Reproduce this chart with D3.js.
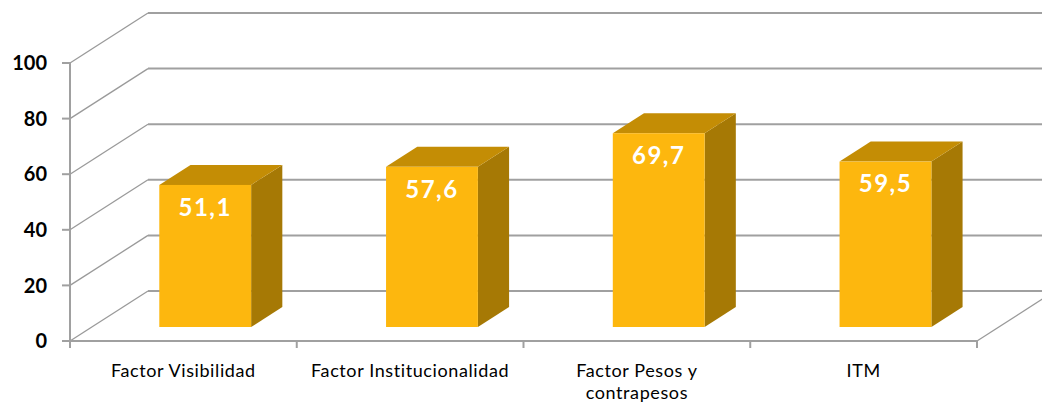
<!DOCTYPE html>
<html>
<head>
<meta charset="utf-8">
<script src="https://cdn.jsdelivr.net/npm/d3@7"></script>
<style>
  html, body { margin: 0; padding: 0; background: #fff; }
  svg { display: block; }
</style>
</head>
<body>
<svg id="chart" width="1042" height="403"></svg>
<script>
// ---- data ----
const categories = ["Factor Visibilidad", "Factor Institucionalidad", "Factor Pesos y contrapesos", "ITM"];
const categoryLines = [["Factor Visibilidad"], ["Factor Institucionalidad"], ["Factor Pesos y", "contrapesos"], ["ITM"]];
const values = [51.1, 57.6, 69.7, 59.5];
const valueLabels = ["51,1", "57,6", "69,7", "59,5"];
const yTicks = [0, 20, 40, 60, 80, 100];

// ---- layout ----
(function () {
const svg = d3.select("#chart");
const font = "Lato, 'Open Sans', sans-serif";
const plotLeft = 70, plotRight = 977, plotBottom = 341, plotTop = 63;
const depthX = 78, depthY = -50;        // full floor depth offset
const barFront = 0.28, barBack = 0.68;  // bars sit in the middle of the depth

const x = d3.scaleBand().domain(categories).range([plotLeft, plotRight]).paddingInner(0).paddingOuter(0);
const y = d3.scaleLinear().domain([0, 100]).range([plotBottom, plotTop]);
const barW = x.bandwidth() * 0.405;

const grid = "#a0a0a0";

// back wall gridlines
svg.append("g").selectAll("line").data(yTicks).join("line")
  .attr("x1", plotLeft + depthX).attr("x2", plotRight + depthX)
  .attr("y1", d => y(d) + depthY).attr("y2", d => y(d) + depthY)
  .attr("stroke", grid).attr("stroke-width", 2);

// left wall diagonals
svg.append("g").selectAll("line").data(yTicks).join("line")
  .attr("x1", plotLeft).attr("x2", plotLeft + depthX)
  .attr("y1", d => y(d)).attr("y2", d => y(d) + depthY)
  .attr("stroke", "#9a9a9a").attr("stroke-width", 1.3);

// floor right diagonal
svg.append("line")
  .attr("x1", plotRight).attr("y1", y(0))
  .attr("x2", plotRight + depthX).attr("y2", y(0) + depthY)
  .attr("stroke", "#9a9a9a").attr("stroke-width", 1.3);

// front axis lines
svg.append("line").attr("x1", plotLeft).attr("x2", plotLeft).attr("y1", y(0) + 1).attr("y2", y(100))
  .attr("stroke", grid).attr("stroke-width", 2);
svg.append("line").attr("x1", plotLeft).attr("x2", plotRight).attr("y1", y(0)).attr("y2", y(0))
  .attr("stroke", grid).attr("stroke-width", 2);

// y ticks
svg.append("g").selectAll("line").data(yTicks).join("line")
  .attr("x1", plotLeft - 8).attr("x2", plotLeft).attr("y1", d => y(d)).attr("y2", d => y(d))
  .attr("stroke", grid).attr("stroke-width", 2);
svg.append("g").selectAll("text").data(yTicks).join("text")
  .attr("x", 47).attr("y", d => y(d)).attr("dy", "0.36em")
  .attr("text-anchor", "end")
  .attr("font-family", font).attr("font-weight", "bold").attr("font-size", 20)
  .attr("fill", "#000").text(d => d);

// category ticks
const catEdges = categories.map(c => x(c)).concat([plotRight]);
svg.append("g").selectAll("line").data(catEdges).join("line")
  .attr("x1", d => d).attr("x2", d => d).attr("y1", y(0)).attr("y2", y(0) + 7)
  .attr("stroke", grid).attr("stroke-width", 2);

// bars
const dxF = depthX * barFront, dyF = depthY * barFront;
const dxB = depthX * barBack, dyB = depthY * barBack;
const bars = svg.append("g").selectAll("g").data(categories).join("g");
bars.each(function(c, i) {
  const g = d3.select(this);
  const cx = x(c) + x.bandwidth() / 2 + dxF;
  const x0 = cx - barW / 2, x1 = cx + barW / 2;
  const yb = y(0) + dyF, yt = y(values[i]) + dyF;
  const ddx = dxB - dxF, ddy = dyB - dyF;
  g.append("path")
    .attr("d", `M${x1},${yb} L${x1 + ddx},${yb + ddy} L${x1 + ddx},${yt + ddy} L${x1},${yt} Z`)
    .attr("fill", "#a67905");
  g.append("path")
    .attr("d", `M${x0},${yt} L${x0 + ddx},${yt + ddy} L${x1 + ddx},${yt + ddy} L${x1},${yt} Z`)
    .attr("fill", "#c48d05");
  g.append("rect").attr("x", x0).attr("y", yt).attr("width", barW).attr("height", yb - yt)
    .attr("fill", "#fdb70e");
  g.append("text")
    .attr("x", cx).attr("y", yt + 22).attr("dy", "0.36em")
    .attr("text-anchor", "middle")
    .attr("font-family", font).attr("font-weight", "bold").attr("font-size", 24)
    .attr("letter-spacing", 1.5)
    .attr("fill", "#fff").text(valueLabels[i]);
});

// category labels
const catG = svg.append("g").selectAll("text").data(categories).join("text")
  .attr("x", c => x(c) + x.bandwidth() / 2)
  .attr("y", 377)
  .attr("text-anchor", "middle")
  .attr("font-family", font).attr("font-size", 18).attr("letter-spacing", 0.6).attr("fill", "#000");
catG.each(function(c, i) {
  const t = d3.select(this);
  categoryLines[i].forEach((line, k) => {
    t.append("tspan").attr("x", x(c) + x.bandwidth() / 2).attr("dy", k === 0 ? 0 : 22).text(line);
  });
});
})();
</script>
</body>
</html>
